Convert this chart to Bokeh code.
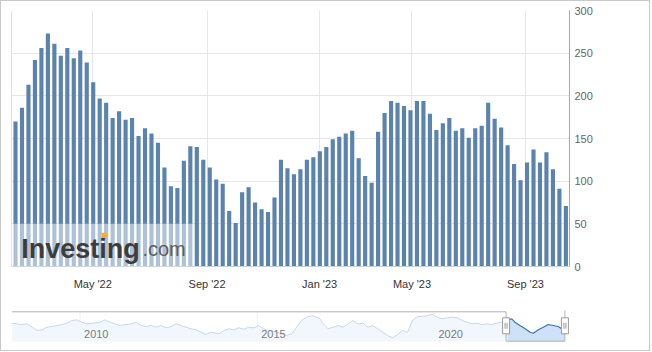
from bokeh.plotting import figure
from bokeh.models import ColumnDataSource, Range1d, FixedTicker, Span, BoxAnnotation, Label
from bokeh.layouts import column
from bokeh.core.properties import value
from bokeh.embed import file_html
from bokeh.resources import INLINE

# ---------------- data ----------------
weekly_values = [170, 186, 213, 242, 256, 273, 261, 247, 256, 244,
                 253, 239, 216, 197, 192, 174, 182, 172, 174, 153,
                 162, 156, 145, 116, 94, 92, 124, 141, 140, 125,
                 116, 102, 97, 65, 51, 87, 93, 75, 67, 64,
                 81, 125, 115, 108, 114, 125, 128, 135, 140, 149,
                 152, 156, 159, 127, 106, 98, 158, 180, 194, 192,
                 188, 183, 194, 194, 179, 160, 168, 174, 159, 162,
                 151, 162, 165, 192, 173, 163, 142, 120, 101, 122,
                 137, 122, 134, 114, 91, 71]
month_tick_pos = [11.93, 29.59, 46.97, 61.23, 78.76]
month_tick_labels = ["May '22", "Sep '22", "Jan '23", "May '23", "Sep '23"]
y_ticks = [0, 50, 100, 150, 200, 250, 300]

nav_years = [2008.07, 2008.32, 2008.51, 2008.65, 2008.79, 2008.93, 2009.07, 2009.21, 2009.35, 2009.49,
             2009.63, 2009.77, 2009.91, 2010.05, 2010.19, 2010.37, 2010.56, 2010.70, 2010.84, 2010.98,
             2011.12, 2011.31, 2011.45, 2011.59, 2011.73, 2011.87, 2012.01, 2012.15, 2012.29, 2012.43,
             2012.57, 2012.71, 2012.85, 2012.99, 2013.13, 2013.27, 2013.41, 2013.55, 2013.69, 2013.83,
             2013.92, 2014.06, 2014.20, 2014.34, 2014.48, 2014.62, 2014.76, 2014.90,
             2015.04, 2015.18, 2015.32, 2015.46, 2015.65, 2015.83, 2015.97,
             2016.11, 2016.25, 2016.39, 2016.54, 2016.68, 2016.77, 2016.86,
             2017.00, 2017.14, 2017.28, 2017.42, 2017.56, 2017.70, 2017.84, 2017.98,
             2018.12, 2018.26, 2018.40, 2018.54, 2018.68, 2018.82, 2018.96,
             2019.10, 2019.24, 2019.38, 2019.52, 2019.66, 2019.80, 2019.94,
             2020.08, 2020.22, 2020.36, 2020.50, 2020.64, 2020.78, 2020.92,
             2021.06, 2021.20, 2021.34, 2021.48, 2021.62, 2021.76, 2021.90,
             2022.06, 2022.18, 2022.27, 2022.41, 2022.56, 2022.70, 2022.79, 2022.93,
             2023.07, 2023.21, 2023.35, 2023.49, 2023.59, 2023.68]
nav_values = [183, 170, 177, 143, 110, 117, 143, 150, 160, 170,
              183, 210, 217, 193, 177, 183, 190, 217, 193, 177,
              160, 170, 177, 190, 160, 150, 160, 143, 160, 137,
              150, 177, 160, 143, 127, 117, 93, 70, 93, 83,
              77, 110, 127, 117, 137, 123, 143, 137,
              160, 127, 110, 103, 83, 60, 77,
              143, 210, 243, 260, 243, 227, 177,
              127, 143, 160, 143, 177, 210, 177, 183,
              143, 160, 127, 93, 60, 37, 70,
              110, 93, 210, 250, 250, 260, 270,
              243, 227, 237, 243, 237, 210, 193,
              177, 183, 170, 177, 170, 183, 193,
              210, 227, 193, 160, 127, 93, 83, 117,
              143, 170, 160, 150, 127, 110]
nav_year_ticks = [2010, 2015, 2020]
nav_year_labels = ["2010", "2015", "2020"]
nav_selection = [2022.02, 2023.68]

FONT = "Liberation Sans"
BAR = "#5c82ae"

# ---------------- main chart ----------------
x_idx = list(range(len(weekly_values)))
src = ColumnDataSource(dict(x=x_idx, top=weekly_values))

x0, x1 = -0.62, len(weekly_values) - 1 + 0.56
p = figure(width=648, height=300, output_backend="svg", toolbar_location=None,
           x_range=Range1d(x0, x1), y_range=Range1d(0, 300),
           y_axis_location="right", title_location=None,
           min_border_left=10, min_border_right=80, min_border_top=9, min_border_bottom=35)
p.background_fill_color = "white"
p.border_fill_color = "white"
p.outline_line_color = None

p.vbar(x="x", top="top", width=0.64, source=src, fill_color=BAR, line_color=None)

p.xaxis.ticker = FixedTicker(ticks=month_tick_pos)
p.xaxis.major_label_overrides = {t: l for t, l in zip(month_tick_pos, month_tick_labels)}
p.xaxis.axis_line_color = "#c3d1e2"
p.xaxis.major_tick_line_color = None
p.xaxis.minor_tick_line_color = None
p.xaxis.major_tick_out = 0
p.xaxis.major_label_standoff = 11
p.xaxis.major_label_text_font = FONT
p.xaxis.major_label_text_font_size = "11px"
p.xaxis.major_label_text_color = "#333333"

p.yaxis.ticker = FixedTicker(ticks=y_ticks)
p.yaxis.axis_line_color = "#a8a8a8"
p.yaxis.major_tick_line_color = None
p.yaxis.minor_tick_line_color = None
p.yaxis.major_tick_out = 0
p.yaxis.major_label_standoff = 5
p.yaxis.major_label_text_font = FONT
p.yaxis.major_label_text_font_size = "11px"
p.yaxis.major_label_text_color = "#666666"

p.xgrid.grid_line_color = "#e6e6e6"
p.ygrid.grid_line_color = "#e6e6e6"

p.add_layout(Span(location=x0, dimension="height", line_color="#c4c4c4", line_width=1))

# watermark
p.add_layout(BoxAnnotation(left=x0, right=27.47, bottom=0, top=50,
                           fill_color="white", fill_alpha=0.5, line_color=None))
p.add_layout(Label(x=0.88, y=21, text="Investing", text_font=FONT, text_font_style="bold",
                   text_font_size="27px", text_color="#3d3d3d", text_baseline="alphabetic"))
p.add_layout(Label(x=19.6, y=21, text=".com", text_font=FONT,
                   text_font_size="20px", text_color="#5e5e5e", text_baseline="alphabetic"))
p.add_layout(BoxAnnotation(left=13.3, right=14.1, bottom=33.5, top=39.5,
                           fill_color="#f4ac3a", fill_alpha=1.0, line_color=None))

# ---------------- navigator ----------------
NAV_L, NAV_R = 10, 76
NAV_W = 648
px_per_year = 35.7
page_left = 1 + NAV_L
page_right = 1 + NAV_W - NAV_R
yr0 = 2010 + (page_left - 80) / px_per_year
yr1 = 2010 + (page_right - 80) / px_per_year
n = figure(width=NAV_W, height=49, output_backend="svg", toolbar_location=None,
           x_range=Range1d(yr0, yr1), y_range=Range1d(-90, 400), title_location=None,
           x_axis_location=None, y_axis_location=None,
           min_border_left=NAV_L, min_border_right=NAV_R, min_border_top=0, min_border_bottom=0)
n.grid.visible = False
n.outline_line_color = None
n.background_fill_color = "white"
n.border_fill_color = "white"

for t in nav_year_ticks:
    n.line(x=[t, t], y=[0, 300], line_color="#eeeeee", line_width=1)

k = next(i for i, y in enumerate(nav_years) if y >= nav_selection[0])
un_x, un_y = nav_years[:k + 1], nav_values[:k + 1]
se_x, se_y = nav_years[k:], nav_values[k:]

n.varea(x=un_x, y1=[0] * len(un_x), y2=un_y, fill_color="#f2f7fd")
n.line(x=un_x, y=un_y, line_color="#c5d8ec", line_width=1)
n.varea(x=se_x, y1=[0] * len(se_x), y2=se_y, fill_color="#cfe1f8")
n.line(x=se_x, y=se_y, line_color="#3b70b3", line_width=1.2)

n.text(x=nav_year_ticks, y=[77] * len(nav_year_ticks), text=nav_year_labels,
       x_offset=4, text_font=value(FONT), text_font_size="11px", text_color="#7a7a7a",
       text_baseline="middle", text_align="left")

s0, s1 = nav_selection
n.line(x=[nav_years[0], s0, s0, s1, s1], y=[297, 297, 3, 3, 310],
       line_color="#b3b3b3", line_width=1)

n.rect(x=[s0, s1], y=[157, 157], width=7, height=16, width_units="screen", height_units="screen",
       fill_color="white", line_color="#9a9a9a")
gx = []
for s in (s0, s1):
    gx += [s - 1.0 / px_per_year, s + 1.0 / px_per_year]
n.segment(x0=gx, y0=[127] * 4, x1=gx, y1=[187] * 4, line_color="#9a9a9a", line_width=1)

layout = column(p, n, styles={"border": "1px solid #c8c8c8"})

open("out.html", "w").write(file_html(layout, INLINE))
